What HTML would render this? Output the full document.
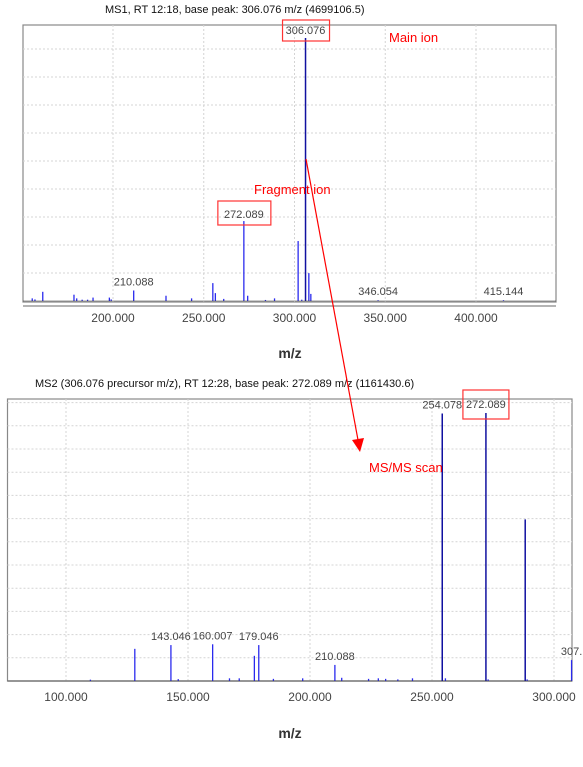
<!DOCTYPE html>
<html><head><meta charset="utf-8"><style>
html,body{margin:0;padding:0;background:#fff;}
svg{display:block;font-family:"Liberation Sans","DejaVu Sans",sans-serif;}
</style></head><body>
<svg id="c" width="583" height="767" viewBox="0 0 583 767"></svg>
<script>
// ---- MS1 data ----
const ms1Mz = [155.5,157,161.3,178.5,180,183,186,189,198,199,211.4,229.2,243.3,255,256.4,261,272.1,274.2,284,289,302,304,306.076,307.9,309,346.054,415.144];
const ms1Int = [1,0.6,3.5,2.4,1,0.5,0.5,1.3,1.3,0.6,4,2,1,6.8,3,0.8,30.4,2,0.4,1,22.8,0.5,100,10.6,2.7,0.3,0.3];
const ms1Labels = [["210.088",211.4,4],["346.054",346.054,0.3],["415.144",415.144,0.3]];
const ms1Ticks = [200,250,300,350,400];
// ---- MS2 data ----
const ms2Mz = [110,128.2,143.0,146,160.1,167,171,177.2,179.0,185,197,210.2,213,224,228,231,236,242,254.2,255.5,272.1,273,288.2,289,307.2];
const ms2Int = [0.5,12,13.4,0.7,13.7,1,1,9.4,13.4,0.8,1,6,1.2,0.8,1,0.8,0.6,1,99.8,1,100,0.6,60.3,0.6,7.8];
const ms2Labels = [["143.046",143.0,13.4],["160.007",160.1,13.7],["179.046",179.0,13.4],["210.088",210.2,6],["254.078",254.2,99.8],["272.089",272.1,100],["307.",307.2,7.8]];
const ms2Ticks = [100,150,200,250,300];

const NS="http://www.w3.org/2000/svg";
const svg=document.getElementById('c');
function el(t,a,p){const e=document.createElementNS(NS,t);for(const k in a)e.setAttribute(k,a[k]);(p||svg).appendChild(e);return e;}

function chart(o){
  const g=el('g',{});
  
  
  const xs=m=>o.x0+(m-o.m0)*o.k;
  const ys=v=>o.base-(v/100)*o.h;
  const t=el('text',{x:o.titleX,y:o.titleY,'font-size':11,fill:'#111'},g);t.textContent=o.title;
  
  const r=el('rect',{x:o.L,y:o.T,width:o.R-o.L,height:o.B-o.T,fill:'#fff',stroke:'#888','stroke-width':1.2},g);
  
  for(let y=o.base-o.gs;y>o.T+2;y-=o.gs){
    const l=el('line',{x1:o.L,x2:o.R,y1:y,y2:y,stroke:'#d4d4d4','stroke-dasharray':'2,2'},g);
    
  }
  o.ticks.forEach(tv=>{
    const x=xs(tv);
    const l=el('line',{x1:x,x2:x,y1:o.T,y2:o.B,stroke:'#d4d4d4','stroke-dasharray':'2,2'},g);
    
    const tl=el('text',{x:x,y:o.tickY,'font-size':12,fill:'#444','text-anchor':'middle'},g);
    tl.textContent=tv.toFixed(3);
    
  });
  const ax=el('line',{x1:o.L,x2:o.R,y1:o.axisY,y2:o.axisY,stroke:'#888','stroke-width':1.2},g);
  
  o.mz.forEach((m,i)=>{
    const x=xs(m);
    const big=o.ints[i]>=50;
    const p=el('line',{x1:x,x2:x,y1:o.base,y2:ys(o.ints[i]),stroke:big?'#1010a0':'#2a2aee','stroke-width':big?1.5:1.3},g);
    
  });
  el('line',{x1:o.L,x2:o.R,y1:o.base,y2:o.base,stroke:'#333','stroke-width':0.6},g);
  o.labels.forEach(lb=>{
    const tl=el('text',{x:xs(lb[1]),y:ys(lb[2])-5,'font-size':11,fill:'#444','text-anchor':'middle'},g);
    tl.textContent=lb[0];
    
  });
  const xl=el('text',{x:290,y:o.xlY,'font-size':14,'font-weight':'bold',fill:'#333','text-anchor':'middle'},g);
  xl.textContent='m/z';
  
  return {xs,ys,g};
}

const c1=chart({name:'ms1-chart',title:'MS1, RT 12:18, base peak: 306.076 m/z (4699106.5)',titleX:105,titleY:13,
  L:23,R:556,T:25,B:302,axisY:306,base:301,h:263,gs:28,x0:113,m0:200,k:1.815,
  mz:ms1Mz,ints:ms1Int,labels:ms1Labels,ticks:ms1Ticks,tickY:322,xlY:358});
{const x=c1.xs(306.076);const t=el('text',{x:x,y:34,'font-size':11,fill:'#444','text-anchor':'middle'},c1.g);t.textContent='306.076';

const b=el('rect',{x:x-23,y:20,width:47,height:21,fill:'none',stroke:'#f33','stroke-width':1.2},c1.g);
}
{const x=c1.xs(272.1);const t=el('text',{x:x,y:218,'font-size':11,fill:'#444','text-anchor':'middle'},c1.g);t.textContent='272.089';

const b=el('rect',{x:x-26,y:201,width:53,height:24,fill:'none',stroke:'#f33','stroke-width':1.2},c1.g);
}

const c2=chart({name:'ms2-chart',title:'MS2 (306.076 precursor m/z), RT 12:28, base peak: 272.089 m/z (1161430.6)',titleX:35,titleY:387,
  L:7.5,R:572,T:399,B:681,axisY:681,base:681,h:268,gs:23.2,x0:66,m0:100,k:2.44,
  mz:ms2Mz,ints:ms2Int,labels:ms2Labels,ticks:ms2Ticks,tickY:701,xlY:738});
{const x=c2.xs(272.1);const b=el('rect',{x:x-23,y:390,width:46,height:29,fill:'none',stroke:'#f33','stroke-width':1.2},c2.g);
}

function red(txt,x,y,name){const t=el('text',{x:x,y:y,'font-size':13,fill:'#f00'});t.textContent=txt;
}
red('Main ion',389,42,'main-ion-annotation');
red('Fragment ion',254,194,'fragment-ion-annotation');
red('MS/MS scan',369,472,'msms-scan-annotation');
const ar=el('line',{x1:306,y1:159,x2:358,y2:440,stroke:'#f00','stroke-width':1.2});

const ah=el('polygon',{points:'352,440 364,438 360,452',fill:'#f00'});

</script>
</body></html>
